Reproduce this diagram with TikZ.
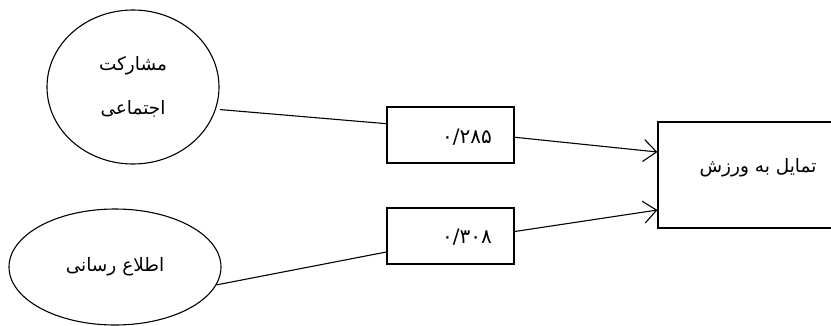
\documentclass[tikz,border=0pt]{standalone}
\usepackage{fontspec}
\usetikzlibrary{shapes.geometric,arrows.meta,calc}
\TeXXeTstate=1
\newfontfamily\arabicfont[Script=Arabic]{DejaVu Sans}
\begin{document}
\begin{tikzpicture}[x=1pt,y=-1pt,
  every node/.style={font=\arabicfont\fontsize{18.5}{22}\selectfont},
  ell/.style={draw, ellipse, line width=1.1pt, inner sep=0pt},
  box/.style={draw, rectangle, line width=1.2pt, inner sep=0pt},
  lbl/.style={inner sep=0pt},
  num/.style={lbl, font=\arabicfont\fontsize{20}{22}\selectfont},
  conn/.style={line width=1.1pt},
  arr/.style={conn, -{Straight Barb[length=13pt,width=22pt]}}]
\useasboundingbox (0,0) rectangle (831,325);
% ellipses
\node[ell, minimum width=172pt, minimum height=154pt, align=center,
      font=\arabicfont\fontsize{18.5}{44}\selectfont] (e1) at (133,87)
      {\beginR مشارکت\endR\\\beginR اجتماعی\endR};
\node[ell, minimum width=212pt, minimum height=116pt] (e2) at (115,267)
      {\beginR اطلاع رسانی\endR};
% coefficient boxes
\node[box, minimum width=127pt, minimum height=56pt] (b1) at (450.5,135) {};
\node[box, minimum width=127pt, minimum height=56pt] (b2) at (450.5,236) {};
\node[num] (n1) at (467,137) {۰/۲۸۵};
\node[num] (n2) at (467,237) {۰/۳۰۸};
% target box
\node[box, minimum width=210pt, minimum height=106pt] (r) at (763,175) {};
\node[lbl] (rl) at (758,168) {\beginR تمایل به ورزش\endR};
\coordinate (r1) at ($(r.west)+(0,-23)$);
\coordinate (r2) at ($(r.west)+(0,35)$);
% connectors
\draw[conn, shorten <=4pt] (e1.-15) -- (b1.170);
\draw[arr] (b1.-2) -- (r1);
\draw[conn] (e2.-10) -- (b2.194);
\draw[arr] (b2.4) -- (r2);
\end{tikzpicture}
\end{document}
